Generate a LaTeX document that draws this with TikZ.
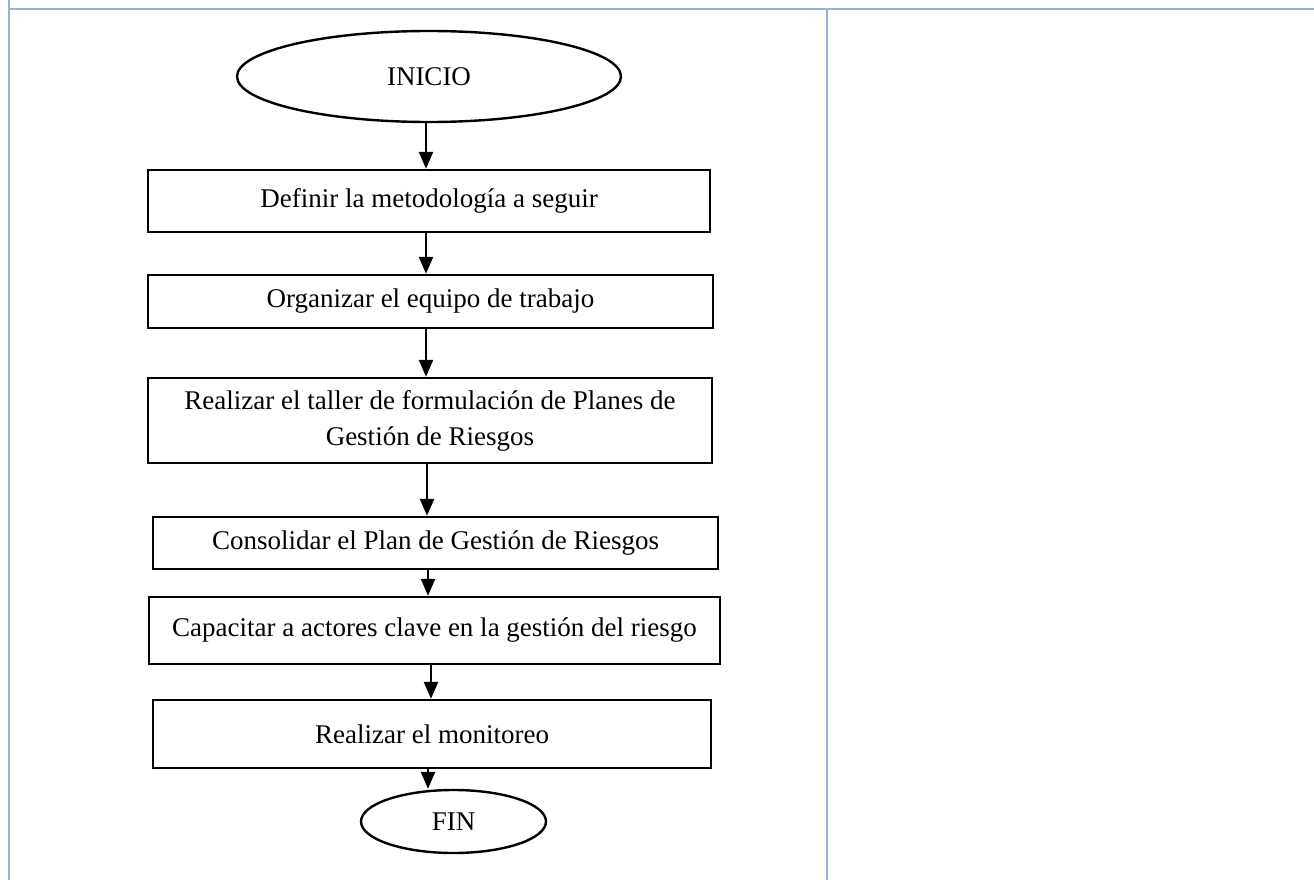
\documentclass[tikz,border=0pt]{standalone}
\usepackage{fontspec}
\setmainfont{Liberation Serif}
\usetikzlibrary{shapes.geometric,arrows.meta}
\definecolor{gridblue}{HTML}{95B3D7}
\tikzset{
  tbl/.style={draw=gridblue,line width=2.2pt},
  procbox/.style={draw=black,line width=2.4pt,rectangle,inner sep=0pt,align=center,font=\fontsize{27}{36}\selectfont},
  term/.style={draw=black,line width=2.4pt,ellipse,inner sep=0pt,font=\fontsize{27}{32}\selectfont},
  arr/.style={draw=black,line width=2.4pt,-{Triangle[width=14pt,length=17pt]}}
}
\begin{document}
\begin{tikzpicture}[x=1pt,y=-1pt]
\useasboundingbox (0,0) rectangle (1314,880);
% table lines
\draw[tbl] (9,0) -- (9,880);
\draw[tbl] (8,9) -- (1314,9);
\draw[tbl] (827,9) -- (827,880);
% nodes
\node[term,minimum width=384pt,minimum height=91pt] (inicio) at (429,76.5) {INICIO};
\node[procbox,minimum width=562pt,minimum height=62pt] (b1) at (429,201) {Definir la metodología a seguir};
\node[procbox,minimum width=565pt,minimum height=53pt] (b2) at (430.5,301.5) {Organizar el equipo de trabajo};
\node[procbox,minimum width=564pt,minimum height=85pt] (b3) at (430,420.5) {Realizar el taller de formulación de Planes de\\Gestión de Riesgos};
\node[procbox,minimum width=565pt,minimum height=52pt] (b4) at (435.5,543) {Consolidar el Plan de Gestión de Riesgos};
\node[procbox,minimum width=571pt,minimum height=67pt] (b5) at (434.5,630.5) {Capacitar a actores clave en la gestión del riesgo};
\node[procbox,minimum width=558pt,minimum height=68pt] (b6) at (432,734) {Realizar el monitoreo};
\node[term,minimum width=185pt,minimum height=63pt] (fin) at (453.5,821.5) {FIN};
% connectors
\coordinate (c1) at (426,0);
\draw[arr] (inicio.south -| c1) -- (b1.north -| c1);
\draw[arr] (b1.south -| c1) -- (b2.north -| c1);
\draw[arr] (b2.south -| c1) -- (b3.north -| c1);
\coordinate (c4) at (427,0);
\draw[arr] (b3.south -| c4) -- (b4.north -| c4);
\coordinate (c5) at (428,0);
\draw[arr] (b4.south -| c5) -- (b5.north -| c5);
\coordinate (c6) at (431,0);
\draw[arr] (b5.south -| c6) -- (b6.north -| c6);
\coordinate (c7) at (428,0);
\draw[arr] (b6.south -| c7) -- (fin.north -| c7);
\end{tikzpicture}
\end{document}
